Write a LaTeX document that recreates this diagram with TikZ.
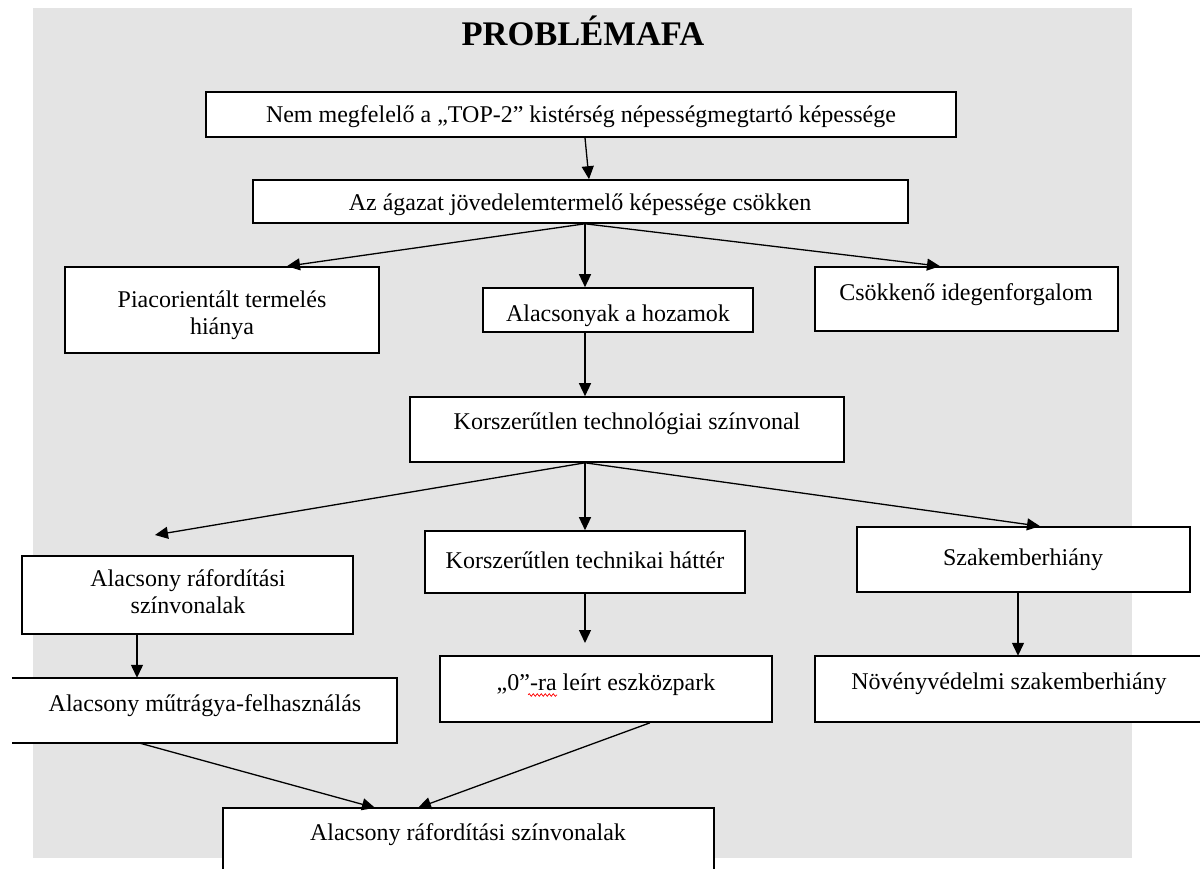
\documentclass[tikz,border=0pt]{standalone}
\usepackage{fontspec}
\setmainfont{Liberation Serif}
\usetikzlibrary{arrows.meta,decorations.pathmorphing}
\definecolor{panelgray}{HTML}{E4E4E4}
\begin{document}
\begin{tikzpicture}[x=1pt,y=-1pt,
  box/.style={draw=black, line width=1.6pt, fill=white, inner sep=0pt},
  openbox/.style={fill=white, inner sep=0pt},
  sides/.style={draw=black, line width=1.6pt},
  lbl/.style={font=\fontsize{24}{27}\selectfont, align=center, inner sep=0pt},
  arr/.style={-{Triangle[width=12pt,length=13pt]}, line width=1.3pt},
]
\useasboundingbox (0,0) rectangle (1200,869);
\fill[panelgray] (33,8) rectangle (1132,858);

% box from its corners: name, x1, y1, x2, y2, style
\newcommand\mkbox[6]{%
  \node[#6, minimum width={(#4)-(#2)}, minimum height={(#5)-(#3)}]
    (#1) at ({((#2)+(#4))/2},{((#3)+(#5))/2}) {};}

\node[font=\fontsize{34.5}{40}\selectfont\bfseries, inner sep=0pt] (title) at (583,31) {PROBLÉMAFA};

% boxes
\mkbox{top}{206}{92}{956}{137}{box}
\mkbox{sector}{253}{180}{908}{223}{box}
\mkbox{market}{65}{267}{379}{353}{box}
\mkbox{yield}{483}{288}{753}{332}{box}
\mkbox{tourism}{815}{267}{1118}{331}{box}
\mkbox{techlevel}{410}{397}{844}{462}{box}
\mkbox{inputs}{22}{556}{353}{634}{box}
\mkbox{machinery}{425}{531}{745}{593}{box}
\mkbox{experts}{857}{527}{1190}{592}{box}
\mkbox{fertil}{12}{678}{397}{743}{openbox}
\mkbox{zero}{440}{656}{772}{722}{box}
\mkbox{plantprot}{815}{656}{1210}{722}{openbox}
\mkbox{bottom}{223}{808}{714}{890}{openbox}

% boxes running past the page edge: only their visible sides
\draw[sides] (fertil.north west) -- (fertil.north east) -- (fertil.south east) -- (fertil.south west);
\draw[sides] (plantprot.north east) -- (plantprot.north west) -- (plantprot.south west) -- (plantprot.south east);
\draw[sides] (bottom.south west) -- (bottom.north west) -- (bottom.north east) -- (bottom.south east);

% labels
\node[lbl] (ttop) at (581,117) {Nem megfelelő a „TOP-2” kistérség népességmegtartó képessége};
\node[lbl] (tsector) at (580,205) {Az ágazat jövedelemtermelő képessége csökken};
\node[lbl] (tmarket) at (222,315) {Piacorientált termelés\\hiánya};
\node[lbl] (tyield) at (618,316) {Alacsonyak a hozamok};
\node[lbl] (ttourism) at (966,295) {Csökkenő idegenforgalom};
\node[lbl] (ttechlevel) at (627,424) {Korszerűtlen technológiai színvonal};
\node[lbl] (tinputs) at (188,592) {Alacsony ráfordítási\\színvonalak};
\node[lbl] (tmachinery) at (585,560) {Korszerűtlen technikai háttér};
\node[lbl] (texperts) at (1023,560) {Szakemberhiány};
\node[lbl] (tfertil) at (205,706) {Alacsony műtrágya-felhasználás};
\node[lbl] (tzero) at (606,685) {„0”-ra leírt eszközpark};
\node[lbl] (tplantprot) at (1009,684) {Növényvédelmi szakemberhiány};
\node[lbl] (tbottom) at (468,835) {Alacsony ráfordítási színvonalak};

% spell-check squiggle under the suffix
\draw[red, line width=0.7pt, decorate, decoration={snake, amplitude=1.3pt, segment length=4pt}]
  (528,695) -- (557,695);

% free arrow ends that stop short of their box
\coordinate (inputstip) at (155,535);
\coordinate (zerotip) at (585,643);

% connectors
\draw[arr] ([xshift=4pt]top.south) -- ([xshift=8.5pt]sector.north);
\draw[arr] ([xshift=4.5pt]sector.south) -- ([xshift=65pt]market.north);
\draw[arr] ([xshift=4.5pt]sector.south) -- ([xshift=-33pt]yield.north);
\draw[arr] ([xshift=4.5pt]sector.south) -- ([xshift=-26.5pt]tourism.north);
\draw[arr] ([xshift=-33pt]yield.south) -- ([xshift=-42pt]techlevel.north);
\draw[arr] ([xshift=-42pt]techlevel.south) -- (inputstip);
\draw[arr] ([xshift=-42pt]techlevel.south) -- (machinery.north);
\draw[arr] ([xshift=-42pt]techlevel.south) -- ([xshift=16.5pt]experts.north);
\draw[arr] ([xshift=-50.5pt]inputs.south) -- ([xshift=-67.5pt]fertil.north);
\draw[arr] (machinery.south) -- (zerotip);
\draw[arr] ([xshift=-5.5pt]experts.south) -- ([xshift=5.5pt]plantprot.north);
\draw[arr] ([xshift=-64.5pt]fertil.south) -- ([xshift=-93.5pt]bottom.north);
\draw[arr] ([xshift=44pt]zero.south) -- ([xshift=-50.5pt]bottom.north);
\end{tikzpicture}
\end{document}
